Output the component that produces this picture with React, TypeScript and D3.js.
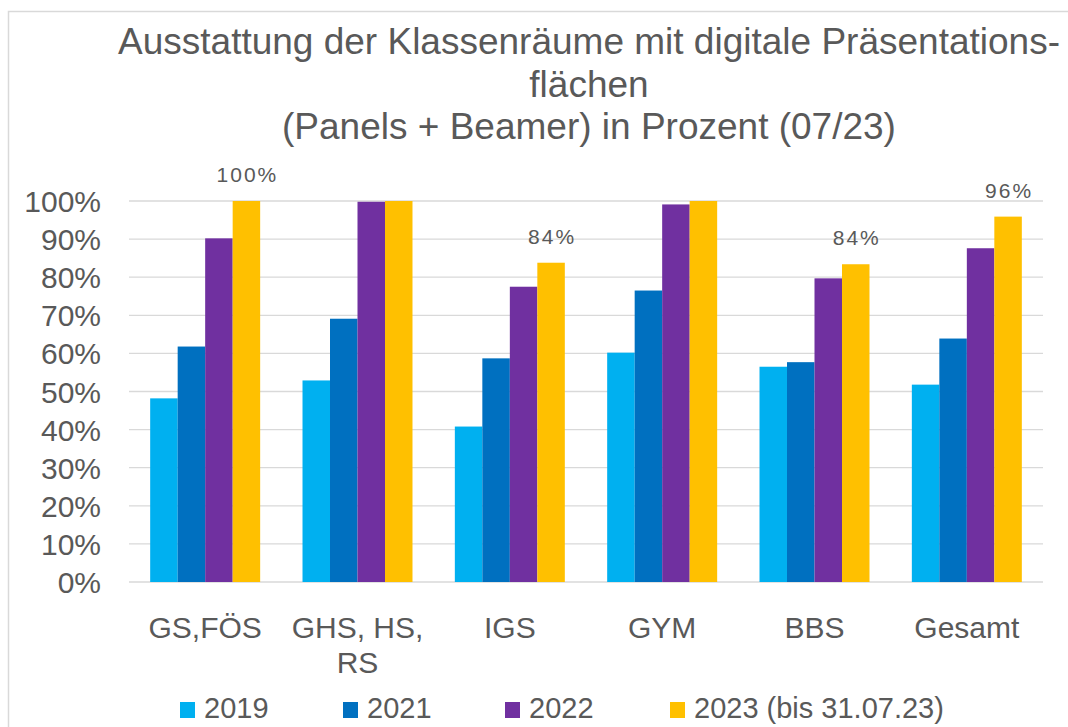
import React, { useRef, useEffect } from 'react';
import * as d3 from 'd3';

const categories = ['GS,FÖS', 'GHS, HS, RS', 'IGS', 'GYM', 'BBS', 'Gesamt'];
const seriesNames = ['2019', '2021', '2022', '2023 (bis 31.07.23)'];
const values2019 = [48.2, 52.9, 40.8, 60.2, 56.5, 51.8];
const values2021 = [61.8, 69.1, 58.7, 76.5, 57.7, 63.9];
const values2022 = [90.2, 99.8, 77.5, 99.1, 79.7, 87.6];
const values2023 = [100, 100, 83.8, 100, 83.4, 95.9];
const labels2023 = ['100%', '', '84%', '', '84%', '96%'];
const yTicks = [0, 10, 20, 30, 40, 50, 60, 70, 80, 90, 100];
const titleLines = [
  'Ausstattung der Klassenräume mit digitale Präsentations-',
  'flächen',
  '(Panels + Beamer) in Prozent (07/23)',
];
const colors = ['#00B0F0', '#0070C0', '#7030A0', '#FFC000'];

const App = () => {
  const ref = useRef<SVGSVGElement>(null);

  useEffect(() => {
    const width = 1068;
    const height = 727;
    const left = 129;
    const right = 1043;
    const top = 201;
    const bottom = 582;
    const textColor = '#595959';
    const font = '"Liberation Sans", Arial, sans-serif';

    const svg = d3.select(ref.current);
    svg.selectAll('*').remove();
    svg.attr('width', width).attr('height', height);

    svg
      .append('rect')
      .attr('x', 8.5)
      .attr('y', 11.5)
      .attr('width', 1200)
      .attr('height', 900)
      .attr('fill', 'white')
      .attr('stroke', '#d9d9d9')
      .attr('stroke-width', 1.5);

    // title
    svg
      .append('g')
      .selectAll('text')
      .data(titleLines)
      .enter()
      .append('text')
      .attr('x', 589)
      .attr('y', (d, i) => 54 + i * 42.5)
      .attr('text-anchor', 'middle')
      .attr('font-family', font)
      .attr('font-size', 37)
      .attr('fill', textColor)
      .text((d) => d);

    const series = [values2019, values2021, values2022, values2023];

    const x = d3
      .scaleBand()
      .domain(categories)
      .range([left, right])
      .paddingInner(0.278)
      .paddingOuter(0.139);
    const xInner = d3
      .scaleBand()
      .domain(seriesNames)
      .range([0, x.bandwidth()]);
    const y = d3.scaleLinear().domain([0, 100]).range([bottom, top]);

    // gridlines
    svg
      .append('g')
      .selectAll('line')
      .data(yTicks)
      .enter()
      .append('line')
      .attr('x1', left)
      .attr('x2', right)
      .attr('y1', (d) => y(d))
      .attr('y2', (d) => y(d))
      .attr('stroke', '#d9d9d9')
      .attr('stroke-width', 1.3);

    // y labels
    svg
      .append('g')
      .selectAll('text')
      .data(yTicks)
      .enter()
      .append('text')
      .attr('x', 101)
      .attr('y', (d) => y(d) + 11)
      .attr('text-anchor', 'end')
      .attr('font-family', font)
      .attr('font-size', 30)
      .attr('fill', textColor)
      .text((d) => d + '%');

    // bars
    const groups = svg
      .append('g')
      .selectAll('g')
      .data(series)
      .enter()
      .append('g')
      .attr('fill', (d, i) => colors[i]);

    groups
      .selectAll('rect')
      .data((d, si) => d.map((v, ci) => ({ v, ci, si })))
      .enter()
      .append('rect')
      .attr('x', (d) => x(categories[d.ci]) + xInner(seriesNames[d.si]))
      .attr('width', xInner.bandwidth())
      .attr('y', (d) => y(d.v))
      .attr('height', (d) => y(0) - y(d.v));

    // data labels on 2023
    svg
      .append('g')
      .selectAll('text')
      .data(labels2023)
      .enter()
      .append('text')
      .attr('x', (d, i) => x(categories[i]) + xInner(seriesNames[3]) + xInner.bandwidth() / 2 + 1)
      .attr('y', (d, i) => y(values2023[i]) - 19)
      .attr('text-anchor', 'middle')
      .attr('font-family', font)
      .attr('font-size', 21)
      .attr('letter-spacing', 2)
      .attr('fill', textColor)
      .text((d) => d);

    // category labels, wrapped to band width
    const cat = svg
      .append('g')
      .selectAll('text')
      .data(categories)
      .enter()
      .append('text')
      .attr('x', (d) => x(d) + x.bandwidth() / 2)
      .attr('y', 638)
      .attr('text-anchor', 'middle')
      .attr('font-family', font)
      .attr('font-size', 30)
      .attr('fill', textColor);

    cat.each(function (d) {
      const t = d3.select(this);
      const cx = x(d) + x.bandwidth() / 2;
      const words = d.split(' ');
      let line: string[] = [];
      let tspan = t.append('tspan').attr('x', cx).attr('dy', 0);
      words.forEach((w) => {
        line.push(w);
        tspan.text(line.join(' '));
        if ((tspan.node() as SVGTSpanElement).getComputedTextLength() > x.step() && line.length > 1) {
          line.pop();
          tspan.text(line.join(' '));
          line = [w];
          tspan = t.append('tspan').attr('x', cx).attr('dy', 35).text(w);
        }
      });
    });

    // legend
    const legendX = [180, 343, 505, 670];
    const legend = svg
      .append('g')
      .selectAll('g')
      .data(seriesNames)
      .enter()
      .append('g')
      .attr('transform', (d, i) => `translate(${legendX[i]}, 702)`);

    legend
      .append('rect')
      .attr('width', 15)
      .attr('height', 16)
      .attr('fill', (d, i) => colors[i]);

    legend
      .append('text')
      .attr('x', 24)
      .attr('y', 16)
      .attr('font-family', font)
      .attr('font-size', 29)
      .attr('fill', textColor)
      .text((d) => d);
  }, []);

  return <svg ref={ref} style={{ position: 'absolute', left: 0, top: 0 }}></svg>;
};

export default App;
